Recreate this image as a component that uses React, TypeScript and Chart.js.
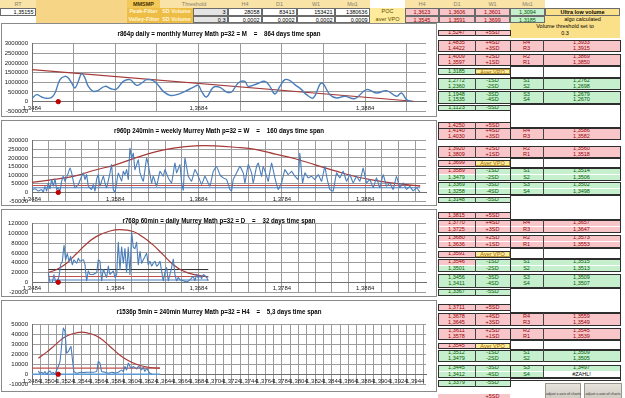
import React, { useEffect, useRef } from 'react';
import { Chart, registerables } from 'chart.js';

Chart.register(...registerables);

// ---------- market reference ----------
const RT = 1.35155;
const AXIS_START = 1.3484;
const AXIS_END = 1.3957;

// ---------- r864p daily (monthly profile) ----------
const c1Price = [1.3484, 1.34896, 1.34956, 1.35016, 1.35076, 1.35116, 1.35176, 1.35236, 1.35276, 1.35316, 1.35356, 1.35396, 1.35436, 1.35476, 1.35516, 1.35576, 1.35636, 1.35716, 1.35796, 1.35856, 1.35936, 1.36016, 1.36096, 1.36156, 1.36216, 1.36296, 1.36356, 1.36416, 1.36496, 1.36576, 1.36676, 1.36776, 1.36836, 1.36876, 1.36936, 1.37016, 1.37096, 1.37176, 1.37236, 1.37316, 1.37396, 1.37436, 1.37536, 1.37636, 1.37696, 1.37756, 1.37816, 1.37876, 1.37936, 1.37996, 1.38076, 1.38136, 1.38216, 1.38316, 1.38416, 1.38496, 1.38596, 1.38716, 1.38856, 1.38976, 1.39096, 1.39216, 1.39276, 1.39336, 1.39396];
const c1Vol = [155000, 362000, 241000, 172000, 224000, 448000, 1138000, 1310000, 1224000, 966000, 707000, 1052000, 1448000, 1224000, 793000, 534000, 586000, 793000, 655000, 655000, 1052000, 1138000, 845000, 966000, 1138000, 1086000, 845000, 534000, 328000, 362000, 534000, 741000, 845000, 534000, 241000, 741000, 741000, 500000, 500000, 966000, 1052000, 793000, 914000, 1052000, 793000, 397000, 793000, 1138000, 1086000, 879000, 621000, 362000, 190000, 966000, 362000, 190000, 276000, 155000, 621000, 448000, 569000, 276000, 448000, 103000, 0];
const c1TrendPrice = [1.3484, 1.3942];
const c1TrendVol = [1660000, 20000];

// ---------- r960p 240min (weekly profile) ----------
const c2Price = [1.3484, 1.34876, 1.34916, 1.34956, 1.34976, 1.34996, 1.35016, 1.35036, 1.35056, 1.35076, 1.35096, 1.35116, 1.35136, 1.35156, 1.35176, 1.35196, 1.35216, 1.35236, 1.35276, 1.35296, 1.35316, 1.35336, 1.35356, 1.35396, 1.35436, 1.35456, 1.35476, 1.35496, 1.35516, 1.35556, 1.35576, 1.35596, 1.35616, 1.35636, 1.35656, 1.35696, 1.35716, 1.35736, 1.35776, 1.35796, 1.35816, 1.35836, 1.35856, 1.35876, 1.35916, 1.35936, 1.35956, 1.35976, 1.35996, 1.36016, 1.36036, 1.36056, 1.36076, 1.36116, 1.36136, 1.36176, 1.36216, 1.36236, 1.36276, 1.36296, 1.36336, 1.36376, 1.36416, 1.36436, 1.36476, 1.36516, 1.36556, 1.36576, 1.36616, 1.36636, 1.36656, 1.36676, 1.36716, 1.36756, 1.36796, 1.36836, 1.36876, 1.36916, 1.36936, 1.36976, 1.37016, 1.37056, 1.37096, 1.37136, 1.37176, 1.37216, 1.37236, 1.37256, 1.37296, 1.37336, 1.37376, 1.37396, 1.37436, 1.37476, 1.37496, 1.37536, 1.37556, 1.37596, 1.37616, 1.37656, 1.37676, 1.37716, 1.37756, 1.37796, 1.37836, 1.37876, 1.37916, 1.37956, 1.37996, 1.38036, 1.38056, 1.38088, 1.38116, 1.38156, 1.38196, 1.38236, 1.38276, 1.38316, 1.38356, 1.38376, 1.38416, 1.38456, 1.38496, 1.38536, 1.38576, 1.38616, 1.38656, 1.38696, 1.38736, 1.38776, 1.38816, 1.38856, 1.38896, 1.38936, 1.38976, 1.39016, 1.39056, 1.39096, 1.39136, 1.39176, 1.39216, 1.39256, 1.39296, 1.39336, 1.39376, 1.39416, 1.39456, 1.39496];
const c2Vol = [13000, 21000, 8000, 17000, 2000, 36000, 8000, 55000, 21000, 75000, 36000, 78000, 17000, 27000, 8000, 65000, 94000, 65000, 113000, 141000, 113000, 65000, 27000, 46000, 94000, 113000, 75000, 103000, 36000, 17000, 46000, 8000, 75000, 103000, 36000, 94000, 55000, 27000, 113000, 161000, 17000, 0, 55000, 113000, 65000, 122000, 103000, 132000, 75000, 256000, 199000, 227000, 132000, 189000, 113000, 65000, 199000, 161000, 55000, 94000, 36000, 122000, 94000, 132000, 84000, 55000, 170000, 113000, 161000, 55000, 13000, 199000, 94000, 65000, 132000, 94000, 46000, 94000, 75000, 36000, 122000, 151000, 103000, 84000, 75000, 17000, 8000, 75000, 113000, 151000, 113000, 55000, 161000, 113000, 55000, 151000, 170000, 94000, 151000, 94000, 65000, 170000, 84000, 17000, 55000, 132000, 103000, 122000, 94000, 75000, 227000, 55000, 113000, 84000, 94000, 75000, 103000, 65000, 151000, 94000, 17000, 8000, 113000, 84000, 122000, 65000, 103000, 55000, 94000, 65000, 141000, 55000, 75000, 27000, 84000, 27000, 103000, 36000, 55000, 17000, 94000, 27000, 55000, 17000, 36000, 8000, 27000, 2000];
const c2BellPrice = [1.3484, 1.351, 1.3536, 1.356, 1.3584, 1.3608, 1.3632, 1.3656, 1.368, 1.3704, 1.3728, 1.3752, 1.3776, 1.38, 1.3824, 1.3848, 1.3872, 1.3896, 1.392, 1.395];
const c2BellVol = [58000, 75000, 96000, 130000, 160000, 200000, 235000, 258000, 270000, 270000, 262000, 250000, 222000, 195000, 160000, 125000, 92000, 70000, 52000, 36000];
const c2LineSpan = [1.3484, 1.395];
const c2PeakLevel = 40000;
const c2ValleyLevel = 27000;

// ---------- r768p 60min (daily profile) ----------
const c3Price = [1.35036, 1.35056, 1.35084, 1.35104, 1.35124, 1.35144, 1.35164, 1.35184, 1.35204, 1.35224, 1.35244, 1.35264, 1.35284, 1.35304, 1.35324, 1.35344, 1.35376, 1.35396, 1.35416, 1.35456, 1.35476, 1.35496, 1.35516, 1.35536, 1.35576, 1.35616, 1.35636, 1.35656, 1.35676, 1.35696, 1.35736, 1.35756, 1.35776, 1.35816, 1.35836, 1.35856, 1.35876, 1.35896, 1.35916, 1.35936, 1.35956, 1.35976, 1.35996, 1.36016, 1.36036, 1.36056, 1.36076, 1.36096, 1.36116, 1.36136, 1.36156, 1.36176, 1.36216, 1.36236, 1.36256, 1.36276, 1.36296, 1.36316, 1.36336, 1.36356, 1.36376, 1.36416, 1.36436, 1.36456, 1.36476, 1.36496, 1.36516, 1.36536, 1.36556, 1.36576, 1.36596, 1.36616, 1.36656, 1.36696, 1.36736, 1.36776, 1.36796, 1.36816, 1.36836, 1.36856, 1.36876, 1.36896, 1.36936, 1.36956];
const c3Vol = [20000, 0, 0, 16000, 0, 3000, 12000, 36000, 43000, 76000, 46000, 59000, 43000, 53000, 36000, 46000, 39000, 49000, 43000, 46000, 36000, 3000, 23000, 16000, 16000, 20000, 46000, 43000, 3000, 26000, 10000, 33000, 16000, 23000, 10000, 16000, 82000, 26000, 72000, 39000, 69000, 20000, 72000, 16000, 102000, 72000, 69000, 82000, 36000, 63000, 39000, 46000, 59000, 36000, 43000, 33000, 39000, 43000, 33000, 36000, 43000, 3000, 20000, 30000, 3000, 16000, 30000, 47000, 16000, 3000, 10000, 5000, 3000, 1000, 5000, 12000, 3000, 16000, 8000, 14000, 7000, 16000, 10000, 3000];
const c3BellPrice = [1.35036, 1.35136, 1.35256, 1.35376, 1.35496, 1.35616, 1.35776, 1.35896, 1.36056, 1.36176, 1.36296, 1.36416, 1.36536, 1.36656, 1.36776, 1.36956];
const c3BellVol = [20000, 26000, 39000, 59000, 79000, 94000, 105000, 108000, 104000, 92000, 76000, 56000, 36000, 23000, 16000, 11000];
const c3LineSpan = [1.35036, 1.36956];
const c3UpperLevel = 26000;
const c3PeakLevel = 11800;
const c3ValleyLevel = 4600;

// ---------- r1536p 5min (H4 profile) ----------
const c4Price = [1.34916, 1.34936, 1.34956, 1.34976, 1.34996, 1.35016, 1.35036, 1.35056, 1.35076, 1.35096, 1.35116, 1.35136, 1.35156, 1.35176, 1.35196, 1.35216, 1.35236, 1.35256, 1.35276, 1.35296, 1.35308, 1.35328, 1.35344, 1.35376, 1.35416, 1.35456, 1.35496, 1.35536, 1.35576, 1.35616, 1.35636, 1.35656, 1.35676, 1.35716, 1.35756, 1.35796, 1.35836, 1.35876, 1.35916, 1.35936, 1.35956, 1.35976, 1.35996, 1.36016, 1.36036, 1.36056, 1.36096, 1.36116, 1.36136, 1.36156, 1.36176, 1.36196, 1.36216, 1.36236, 1.36256, 1.36276];
const c4Vol = [3300, 700, 2000, 700, 2700, 0, 2000, 3300, 700, 2000, 0, 4300, 7700, 12700, 29000, 46000, 42600, 21000, 22600, 26000, 27600, 12700, 2700, 1000, 2000, 1700, 2000, 2000, 2000, 2700, 12700, 11000, 2700, 2000, 1000, 2000, 1300, 2000, 4300, 2700, 7700, 4300, 11000, 7700, 6000, 7700, 5300, 7700, 6700, 4300, 6700, 2700, 6000, 3300, 1000, 300];
const c4BellPrice = [1.34916, 1.35016, 1.35116, 1.35216, 1.35316, 1.35436, 1.35556, 1.35656, 1.35776, 1.35896, 1.36016, 1.36136, 1.36256, 1.36376];
const c4BellVol = [16000, 22000, 29000, 36000, 40000, 42000, 40000, 36000, 27600, 19000, 12700, 8700, 6700, 6000];
const c4LineSpan = [1.3484, 1.36376];
const c4PeakLevel = 6000;
const c4ValleyLevel = 0;

// ---------- header block ----------
const tfNames = ['H4', 'D1', 'W1', 'Mo1'];
const peakSdVolume = ['28058', '83413', '153421', '1380636'];
const valleySdVolume = ['0.0002', '0.0002', '0.0002', '0.0009'];
const pocLevels = ['1,3623', '1,3606', '1,3601', '1,3094'];
const averVpoLevels = ['1,3545', '1,3591', '1,3699', '1,3185'];

// ---------- SD / pivot tables ----------
const sdLabels = ['+5SD', '+4SD', '+3SD', '+2SD', '+1SD', 'Aver VPO', '-1SD', '-2SD', '-3SD', '-4SD', '-5SD'];
const t1Levels = ['1,5247', '1,4835', '1,4422', '1,4009', '1,3597', '1,3185', '1,2772', '1,2360', '1,1948', '1,1535', '1,1123'];
const t2Levels = ['1,4250', '1,4140', '1,4030', '1,3920', '1,3809', '1,3699', '1,3589', '1,3479', '1,3369', '1,3258', '1,3148'];
const t3Levels = ['1,3815', '1,3770', '1,3725', '1,3680', '1,3636', '1,3591', '1,3546', '1,3501', '1,3456', '1,3411', '1,3367'];
const t4Levels = ['1,3711', '1,3678', '1,3645', '1,3611', '1,3578', '1,3545', '1,3512', '1,3479', '1,3445', '1,3412', '1,3379'];
const rsNames = ['R4', 'R3', 'R2', 'R1', 'S1', 'S2', 'S3', 'S4'];
const t1Pivots = ['1,3933', '1,3915', '1,3869', '1,3850', '1,2762', '1,2698', '1,2679', '1,2670'];
const t2Pivots = ['1,3586', '1,3582', '1,3560', '1,3518', '1,3514', '1,3506', '1,3502', '1,3498'];
const t3Pivots = ['1,3657', '1,3647', '1,3573', '1,3553', '1,3515', '1,3513', '1,3509', '1,3507'];
const t4Pivots = ['1,3559', '1,3549', '1,3545', '1,3539', '1,3509', '1,3505', '1,3497', '#ZAHL!'];

// ---------- styling ----------
const TICK_FONT = '"Liberation Sans", Arial, sans-serif';
const TITLE_FONT = '"Liberation Sans Narrow", "Liberation Sans", Arial, sans-serif';
const CELL_FONT = '"Liberation Sans", Arial, sans-serif';
const GRID = '#9c9c9c';
const AXIS = '#707070';
const BLUE = '#4a7ebb';
const RED = '#c0504d';
const BELL = '#a63a38';
const PINK_BG = '#f8c6c9';
const PINK_TX = '#9c0006';
const GREEN_BG = '#c6efce';
const GREEN_TX = '#006100';
const YEL_BG = '#ffeb9c';
const YEL_TX = '#9c6500';

const pts = (xs: number[], ys: number[]) => xs.map((x, i) => ({ x, y: ys[i] }));
const level = (span: number[], v: number) => span.map((x) => ({ x, y: v }));
const fmtPrice = (v: number) => v.toFixed(4).replace('.', ',');
const parsePrice = (s: string) => parseFloat(s.replace(',', '.'));

// Chart title drawn over the plot, squeezed to a fixed width like a condensed face
const panelTitle = {
  id: 'panelTitle',
  afterDraw(chart: any, _args: any, opts: any) {
    if (!opts || !opts.text) return;
    const { ctx } = chart;
    ctx.save();
    ctx.font = `bold ${opts.size}px ${TITLE_FONT}`;
    const natural = ctx.measureText(opts.text).width;
    const sx = Math.min(1, opts.width / natural);
    ctx.translate(opts.x, opts.y);
    ctx.scale(sx, 1);
    ctx.fillStyle = '#000';
    ctx.textAlign = 'center';
    ctx.textBaseline = 'middle';
    ctx.fillText(opts.text, 0, 0);
    ctx.restore();
  },
};

type PanelProps = {
  top: number;
  height: number;
  plotTop: number;
  plotBottom: number;
  titleY: number;
  titleWidth: number;
  title: string;
  yMin: number;
  yMax: number;
  yStep: number;
  xStep: number;
  labelEvery: number;
  datasets: any[];
};

const PANEL_LEFT = 1;
const PANEL_WIDTH = 436;
const PLOT_LEFT = 32;
const PLOT_RIGHT = 426;

function ProfilePanel(p: PanelProps) {
  const ref = useRef<HTMLCanvasElement | null>(null);
  useEffect(() => {
    if (!ref.current) return;
    const chart = new Chart(ref.current, {
      type: 'line',
      data: { datasets: p.datasets },
      plugins: [panelTitle],
      options: {
        animation: false,
        responsive: false,
        maintainAspectRatio: false,
        events: [],
        layout: {
          padding: {
            left: 0,
            right: PANEL_LEFT + PANEL_WIDTH - PLOT_RIGHT,
            top: p.plotTop - p.top,
            bottom: p.top + p.height - p.plotBottom,
          },
        },
        plugins: {
          legend: { display: false },
          tooltip: { enabled: false },
          panelTitle: { text: p.title, y: p.titleY - p.top, x: 219 - PANEL_LEFT, size: 7.5, width: p.titleWidth },
        } as any,
        scales: {
          x: {
            type: 'linear',
            min: AXIS_START,
            max: AXIS_END,
            position: { y: 0 } as any,
            afterBuildTicks: (s: any) => {
              const t = [];
              for (let k = 0; AXIS_START + k * p.xStep <= AXIS_END + 1e-9; k++) {
                t.push({ value: AXIS_START + k * p.xStep });
              }
              s.ticks = t;
            },
            afterFit: (s: any) => {
              s.paddingLeft = 0;
              s.paddingRight = 0;
            },
            grid: { color: GRID, lineWidth: 1, drawTicks: false },
            border: { color: AXIS, width: 1 },
            ticks: {
              autoSkip: false,
              maxRotation: 0,
              minRotation: 0,
              padding: 3,
              color: '#1a1a1a',
              font: { family: TICK_FONT, size: 6 },
              callback: (v: any, i: number) => (i % p.labelEvery === 0 ? fmtPrice(Number(v)) : ''),
            },
          },
          y: {
            type: 'linear',
            min: p.yMin,
            max: p.yMax,
            afterFit: (s: any) => {
              s.width = PLOT_LEFT - PANEL_LEFT;
              s.paddingTop = 0;
              s.paddingBottom = 0;
            },
            grid: { color: GRID, lineWidth: 1, drawTicks: false },
            border: { color: AXIS, width: 1 },
            ticks: {
              stepSize: p.yStep,
              autoSkip: false,
              padding: 4,
              color: '#1a1a1a',
              font: { family: TICK_FONT, size: 6 },
              callback: (v: any) => String(v),
            },
          },
        },
      },
    });
    return () => chart.destroy();
  }, []);
  return (
    <>
      <div
        style={{
          position: 'absolute',
          left: PANEL_LEFT,
          top: p.top,
          width: PANEL_WIDTH,
          height: p.height,
          border: '1px solid #8a8a8a',
          boxSizing: 'border-box',
          background: '#fff',
        }}
      />
      <canvas
        ref={ref}
        width={PANEL_WIDTH}
        height={p.height}
        style={{ position: 'absolute', left: PANEL_LEFT, top: p.top, width: PANEL_WIDTH, height: p.height }}
      />
    </>
  );
}

const lineDs = (data: any[], color: string, width: number, tension: number, order: number) => ({
  data,
  borderColor: color,
  borderWidth: width,
  pointRadius: 0,
  tension,
  fill: false,
  order,
});

const marker = {
  data: [{ x: RT, y: 0 }],
  showLine: false,
  pointRadius: 2.2,
  pointBackgroundColor: '#c00000',
  pointBorderColor: '#c00000',
  order: 0,
};

const panels: PanelProps[] = [
  {
    top: 23, height: 94, plotTop: 43.7, plotBottom: 111.3, titleY: 34, titleWidth: 203,
    title: 'r864p daily = monthly Murrey Math p=32 = M    =    864 days time span',
    yMin: -500000, yMax: 3000000, yStep: 500000, xStep: 0.005, labelEvery: 4,
    datasets: [
      lineDs(pts(c1Price, c1Vol), BLUE, 1.4, 0.4, 1),
      lineDs(pts(c1TrendPrice, c1TrendVol), BELL, 1.2, 0, 2),
      marker,
    ],
  },
  {
    top: 120, height: 86, plotTop: 140.7, plotBottom: 201, titleY: 130.7, titleWidth: 210,
    title: 'r960p 240min = weekly Murrey Math p=32 = W    =    160 days time span',
    yMin: -50000, yMax: 300000, yStep: 50000, xStep: 0.002, labelEvery: 5,
    datasets: [
      lineDs(pts(c2Price, c2Vol), BLUE, 1.1, 0.1, 1),
      lineDs(pts(c2BellPrice, c2BellVol), BELL, 1.2, 0.4, 2),
      lineDs(level(c2LineSpan, c2PeakLevel), RED, 1.2, 0, 3),
      lineDs(level(c2LineSpan, c2ValleyLevel), BLUE, 1.2, 0, 3),
      marker,
    ],
  },
  {
    top: 209, height: 88, plotTop: 223.7, plotBottom: 294.3, titleY: 220.7, titleWidth: 193,
    title: 'r768p 60min = daily Murrey Math p=32 = D    =    32 days time span',
    yMin: -20000, yMax: 120000, yStep: 20000, xStep: 0.002, labelEvery: 5,
    datasets: [
      lineDs(pts(c3Price, c3Vol), BLUE, 1.1, 0.1, 1),
      lineDs(pts(c3BellPrice, c3BellVol), BELL, 1.2, 0.4, 2),
      lineDs(level(c3LineSpan, c3UpperLevel), '#2b2b2b', 1, 0, 3),
      lineDs(level(c3LineSpan, c3PeakLevel), RED, 1.2, 0, 3),
      lineDs(level(c3LineSpan, c3ValleyLevel), BLUE, 1.2, 0, 3),
      marker,
    ],
  },
  {
    top: 300, height: 92, plotTop: 324, plotBottom: 384.3, titleY: 311.7, titleWidth: 205,
    title: 'r1536p 5min = 240min Murrey Math p=32 = H4    =    5,3 days time span',
    yMin: -10000, yMax: 50000, yStep: 10000, xStep: 0.001, labelEvery: 2,
    datasets: [
      lineDs(pts(c4Price, c4Vol), BLUE, 1.1, 0.1, 1),
      lineDs(pts(c4BellPrice, c4BellVol), BELL, 1.2, 0.4, 2),
      lineDs(level(c4LineSpan, c4PeakLevel), RED, 1.2, 0, 3),
      lineDs(level(c4LineSpan, c4ValleyLevel), '#5b9bd5', 1.4, 0, 3),
      marker,
    ],
  },
];

// ---------- spreadsheet cells ----------
type CellProps = {
  x: number; y: number; w: number; h: number; text?: string; bg?: string; color?: string;
  bold?: boolean; align?: 'left' | 'center' | 'right'; border?: string; size?: number;
};

function Cell({ x, y, w, h, text, bg, color, bold, align, border, size }: CellProps) {
  return (
    <div
      style={{
        position: 'absolute', left: x, top: y, width: w, height: h,
        background: bg || 'transparent', color: color || '#000',
        fontWeight: bold ? 700 : 400, textAlign: align || 'center',
        fontSize: size || 5.5, lineHeight: `${h}px`, fontFamily: CELL_FONT,
        border: border || 'none', boxSizing: 'border-box', whiteSpace: 'nowrap',
        overflow: 'hidden', padding: '0 1.5px',
      }}
    >
      {text}
    </div>
  );
}

const HDR_BG = '#f9e3a6';
const HDR_TX = '#8a8070';
const GOLD = '#f6d586';
const FILTER_BG = '#eebd45';
const THIN = '0.8px solid #6b6b6b';

function Header() {
  const r1 = 0, r2 = 8, r3 = 15.5, rh = 7.5;
  const tfX = [228, 262, 297, 335];
  const tfW = [34, 35, 38, 35];
  const pocX = [405, 439, 475, 510];
  const pocW = [34, 36, 35, 35];
  const cells: CellProps[] = [
    { x: 0, y: r1, w: 36, h: 8, text: 'RT', bg: HDR_BG, color: HDR_TX },
    { x: 0, y: r2, w: 36, h: rh, text: '1,35155', bg: '#fff', border: THIN, align: 'right' },
    { x: 36, y: 0, w: 91, h: 22.5, bg: GOLD },
    { x: 127, y: r1, w: 33, h: 8, text: 'MMSMP', bg: '#f3c95a', color: '#4a3300', bold: true },
    { x: 127, y: r2, w: 33, h: rh, text: 'Peak-Filter', bg: FILTER_BG, color: '#fff6d8', bold: true },
    { x: 127, y: r3, w: 33, h: rh, text: 'Valley-Filter', bg: FILTER_BG, color: '#fff6d8', bold: true },
    { x: 160, y: r1, w: 68, h: 8, text: 'Threshold', bg: HDR_BG, color: HDR_TX },
    { x: 160, y: r2, w: 33, h: rh, text: 'SD Volume', bg: FILTER_BG, color: '#fff6d8', bold: true },
    { x: 160, y: r3, w: 33, h: rh, text: 'SD Volume', bg: FILTER_BG, color: '#fff6d8', bold: true },
    { x: 193, y: r2, w: 35, h: rh, text: '3', bg: '#e4e4e4', border: THIN, align: 'right' },
    { x: 193, y: r3, w: 35, h: rh, text: '0,3', bg: '#e4e4e4', border: THIN, align: 'right' },
    { x: 370, y: r2, w: 35, h: rh, text: 'POC', bg: YEL_BG, color: '#5a4a00' },
    { x: 370, y: r3, w: 35, h: rh, text: 'aver VPO', bg: YEL_BG, color: '#5a4a00' },
    { x: 545, y: r2, w: 75, h: rh, text: 'Ultra low volume', bg: '#fbe08a', bold: true, border: THIN },
    { x: 545, y: r3, w: 75, h: rh, text: 'algo calculated', bg: '#fbe08a' },
    { x: 510, y: 22.5, w: 110, h: 7.5, text: 'Volume threshold set to', bg: '#fbe08a' },
    { x: 510, y: 30, w: 110, h: 7.5, text: '0.3', bg: '#fbe08a' },
  ];
  tfNames.forEach((n, i) => {
    cells.push({ x: tfX[i], y: r1, w: tfW[i], h: 8, text: n, bg: HDR_BG, color: HDR_TX });
    cells.push({ x: tfX[i], y: r2, w: tfW[i], h: rh, text: peakSdVolume[i], bg: '#fff', border: THIN, align: 'right' });
    cells.push({ x: tfX[i], y: r3, w: tfW[i], h: rh, text: valleySdVolume[i], bg: '#fff', border: THIN, align: 'right' });
    cells.push({ x: pocX[i], y: r1, w: pocW[i], h: 8, text: n, bg: HDR_BG, color: HDR_TX });
    const pocHigh = parsePrice(pocLevels[i]) > RT;
    const avHigh = parsePrice(averVpoLevels[i]) > RT;
    cells.push({ x: pocX[i], y: r2, w: pocW[i], h: rh, text: pocLevels[i], bg: pocHigh ? PINK_BG : GREEN_BG, color: pocHigh ? PINK_TX : GREEN_TX, border: THIN });
    cells.push({ x: pocX[i], y: r3, w: pocW[i], h: rh, text: averVpoLevels[i], bg: avHigh ? PINK_BG : GREEN_BG, color: avHigh ? PINK_TX : GREEN_TX, border: THIN });
  });
  return <>{cells.map((c, i) => <Cell key={i} {...c} />)}</>;
}

// row centres of each SD table, top to bottom
const tableRows = [
  [33, 43, 48.7, 57, 62.7, 71.5, 81, 86.8, 94.5, 100.2, 108],
  [125.7, 131.3, 137, 149, 155, 163.3, 171, 177.5, 185, 191.5, 200],
  [215.7, 223.3, 229.8, 238.3, 244.8, 254.3, 262.3, 268.8, 277.7, 284.2, 292.3],
  [307.7, 316.7, 322.5, 331, 336.8, 346, 353.3, 359.1, 368.3, 374.5, 383.3],
];
const tableLevels = [t1Levels, t2Levels, t3Levels, t4Levels];
const tablePivots = [t1Pivots, t2Pivots, t3Pivots, t4Pivots];
const groups = [[0], [1, 2], [3, 4], [5], [6, 7], [8, 9], [10]];
const pivotRowOf = [1, 2, 3, 4, 6, 7, 8, 9];

const COL_A = 438, COL_B = 475, COL_C = 510, COL_D = 543, COL_END = 620;
const ROW_H = 5.8;
const BOX = '1px solid #2e2e2e';

function SdTable({ t }: { t: number }) {
  const rows = tableRows[t];
  const levels = tableLevels[t];
  const pivots = tablePivots[t];
  const out: any[] = [];
  rows.forEach((yc, i) => {
    const y = yc - ROW_H / 2;
    const high = parsePrice(levels[i]) > RT;
    const isAver = i === 5;
    const labelBg = isAver ? YEL_BG : i < 5 ? PINK_BG : GREEN_BG;
    const labelTx = isAver ? YEL_TX : i < 5 ? PINK_TX : GREEN_TX;
    out.push(<Cell key={`v${i}`} x={COL_A} y={y} w={COL_B - COL_A} h={ROW_H} text={levels[i]} bg={high ? PINK_BG : GREEN_BG} color={high ? PINK_TX : GREEN_TX} />);
    out.push(<Cell key={`l${i}`} x={COL_B} y={y} w={COL_C - COL_B} h={ROW_H} text={sdLabels[i]} bg={labelBg} color={labelTx} border={isAver ? '0.8px solid #b89a3a' : undefined} />);
  });
  groups.forEach((g, gi) => {
    const y0 = rows[g[0]] - ROW_H / 2 - 0.5;
    const y1 = rows[g[g.length - 1]] + ROW_H / 2 + 0.5;
    out.push(<div key={`g${gi}`} style={{ position: 'absolute', left: COL_A - 0.5, top: y0, width: COL_C - COL_A + 1, height: y1 - y0, border: BOX, boxSizing: 'border-box' }} />);
    out.push(<div key={`gv${gi}`} style={{ position: 'absolute', left: COL_B, top: y0, width: 0, height: y1 - y0, borderLeft: '0.8px solid #444' }} />);
  });
  pivots.forEach((val, k) => {
    const i = pivotRowOf[k];
    const y = rows[i] - ROW_H / 2;
    const res = k < 4;
    const bad = val.startsWith('#');
    out.push(<Cell key={`pn${k}`} x={COL_C} y={y} w={COL_D - COL_C} h={ROW_H} text={rsNames[k]} bg={res ? PINK_BG : GREEN_BG} color={res ? PINK_TX : GREEN_TX} />);
    out.push(<Cell key={`pv${k}`} x={COL_D} y={y} w={COL_END - COL_D} h={ROW_H} text={val} bg={bad ? '#fff' : res ? PINK_BG : GREEN_BG} color={bad ? '#000' : res ? PINK_TX : GREEN_TX} />);
  });
  // boxes around R and S pairs
  [[1, 2], [3, 4], [6, 7], [8, 9]].forEach((g, gi) => {
    const y0 = rows[g[0]] - ROW_H / 2 - 0.5;
    const y1 = rows[g[1]] + ROW_H / 2 + 0.5;
    out.push(<div key={`pg${gi}`} style={{ position: 'absolute', left: COL_C - 0.5, top: y0, width: COL_END - COL_C + 1, height: y1 - y0, border: BOX, boxSizing: 'border-box' }} />);
    out.push(<div key={`pgv${gi}`} style={{ position: 'absolute', left: COL_D, top: y0, width: 0, height: y1 - y0, borderLeft: '0.8px solid #444' }} />);
  });
  // blank aver row and the gap after S4
  const ay0 = rows[4] + ROW_H / 2 + 0.5;
  const ay1 = rows[6] - ROW_H / 2 - 0.5;
  out.push(<div key="avbox" style={{ position: 'absolute', left: COL_C - 0.5, top: ay0, width: COL_END - COL_C + 1, height: ay1 - ay0, border: BOX, boxSizing: 'border-box', background: '#fff' }} />);
  out.push(<div key="avv" style={{ position: 'absolute', left: COL_D, top: ay0, width: 0, height: ay1 - ay0, borderLeft: '0.8px solid #444' }} />);
  const gy0 = rows[9] + ROW_H / 2 + 0.5;
  const gy1 = t < 3 ? tableRows[t + 1][1] - ROW_H / 2 - 0.5 : 381;
  out.push(<div key="gapbox" style={{ position: 'absolute', left: COL_C - 0.5, top: gy0, width: COL_END - COL_C + 1, height: gy1 - gy0, border: BOX, boxSizing: 'border-box', background: '#fff' }} />);
  return <>{out}</>;
}

function Buttons() {
  const btn = (x: number, w: number, key: string) => (
    <div
      key={key}
      style={{
        position: 'absolute', left: x, top: 383, width: w, height: 17,
        background: 'linear-gradient(#e6e3dc, #cfcac0)', border: '1px solid #9c978c', boxSizing: 'border-box',
        fontFamily: CELL_FONT, fontSize: 3.6, color: '#333', textAlign: 'center', paddingTop: 8, whiteSpace: 'nowrap',
      }}
    >
      adjust x-axis of charts
    </div>
  );
  return <>{[btn(545, 36, 'b1'), btn(584, 38, 'b2')]}</>;
}

export default function App() {
  useEffect(() => {
    document.body.style.margin = '0';
  }, []);
  return (
    <div style={{ position: 'fixed', left: 0, top: 0, width: 625, height: 398, overflow: 'hidden', background: '#fff' }}>
      <Header />
      {panels.map((p, i) => (
        <ProfilePanel key={i} {...p} />
      ))}
      {[0, 1, 2, 3].map((t) => (
        <SdTable key={t} t={t} />
      ))}
      <Cell x={COL_A} y={394} w={COL_B - COL_A} h={ROW_H} text="" bg={PINK_BG} color={PINK_TX} />
      <Cell x={COL_B} y={394} w={COL_C - COL_B} h={ROW_H} text="+5SD" bg={PINK_BG} color={PINK_TX} />
      <Buttons />
    </div>
  );
}
